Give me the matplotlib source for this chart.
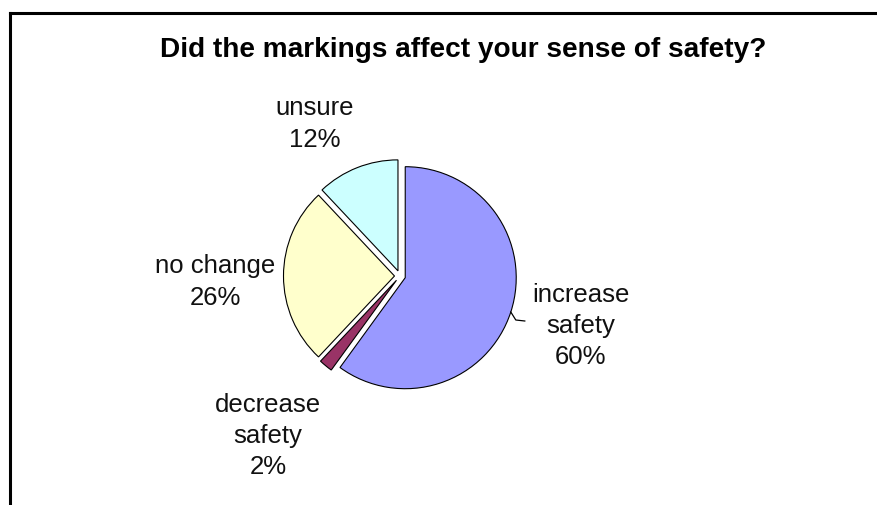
import math
import matplotlib
matplotlib.use("Agg")
import matplotlib.pyplot as plt
from matplotlib.lines import Line2D

title = "Did the markings affect your sense of safety?"
categories = ["increase\nsafety", "decrease\nsafety", "no change", "unsure"]
percents = [60, 2, 26, 12]
colors = ["#9999FF", "#993366", "#FFFFCC", "#CCFFFF"]

# label anchor points, pixel coordinates from the top-left corner
label_pos = [(581, 326), (268, 436), (215, 282), (315, 124)]

W, H = 877, 505
plt.rcParams["font.family"] = ["Liberation Sans", "DejaVu Sans"]

fig = plt.figure(figsize=(W / 100, H / 100), dpi=100)
ax = fig.add_axes([0, 0, 1, 1])

cx, cy, r = 400, H - 276, 111
wedges, _ = ax.pie(
    percents,
    colors=colors,
    startangle=90,
    counterclock=False,
    explode=[5.5] * len(percents),
    center=(cx, cy),
    radius=r,
    wedgeprops=dict(edgecolor="black", linewidth=0.8),
    frame=True,
)
ax.set_xlim(0, W)
ax.set_ylim(0, H)
ax.set_aspect("auto")
ax.axis("off")

for name, pct, (lx, ly) in zip(categories, percents, label_pos):
    ax.text(lx, H - ly, f"{name}\n{pct}%", ha="center", va="center",
            fontsize=18.5, linespacing=1.38, color="#111111")

# short hooked leader line from the big slice to its label
w = wedges[0]
ang = math.radians(-18)
x0 = w.center[0] + r * math.cos(ang)
y0 = w.center[1] + r * math.sin(ang)
ax.add_line(Line2D([x0, x0 + 5, x0 + 14], [y0, y0 - 8, y0 - 9],
                   color="black", linewidth=0.9))

ax.text(W / 2 + 25, H - 50, title, ha="center", va="center",
        fontsize=20.2, fontweight="bold")

# frame: top and left edges only
ax.add_line(Line2D([9.5, W], [H - 12.5, H - 12.5], color="black", linewidth=2.2))
ax.add_line(Line2D([9.5, 9.5], [H - 12.5, 0], color="black", linewidth=2.2))

fig.savefig("out.png", dpi=100)
